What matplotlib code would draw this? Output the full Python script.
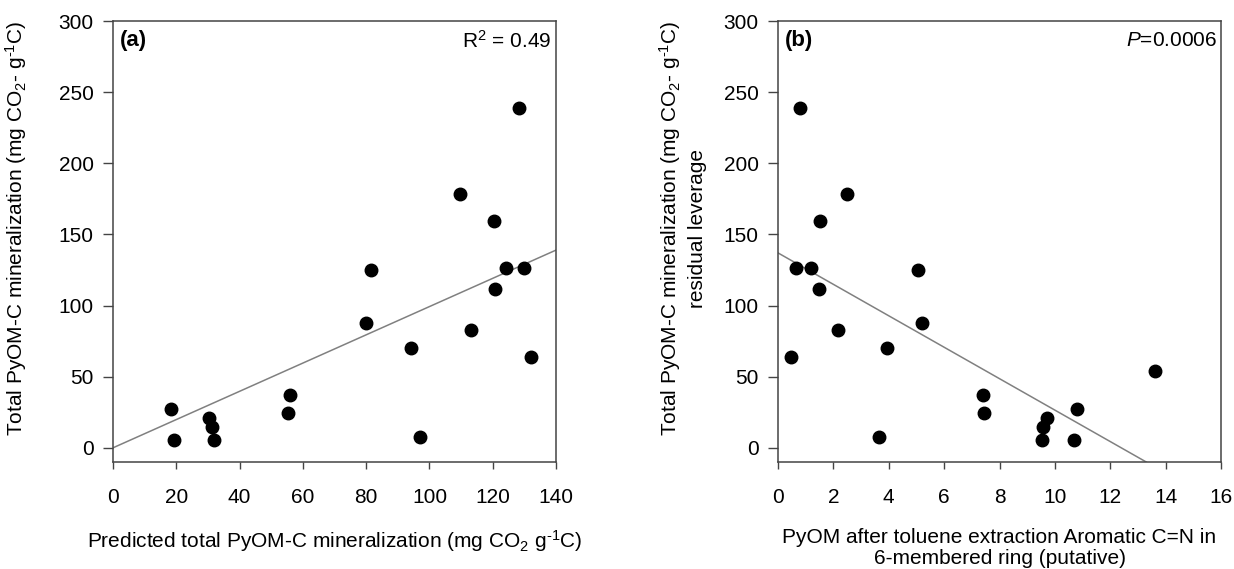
import matplotlib
matplotlib.use('Agg')
from matplotlib import pyplot as plt

plt.rcParams['font.family'] = ['Liberation Sans', 'DejaVu Sans']
plt.rcParams['mathtext.fontset'] = 'custom'
plt.rcParams['mathtext.rm'] = 'Liberation Sans'
plt.rcParams['mathtext.it'] = 'Liberation Sans:italic'

# panel (a): predicted vs measured total PyOM-C mineralization
pred_a = [18.3, 19.3, 30.2, 31.2, 31.9, 55.4, 55.9, 80.0, 81.5, 94.1,
          97.0, 109.7, 113.0, 120.4, 120.7, 124.1, 128.2, 130.0, 132.0]
total_a = [27.2, 5.6, 20.8, 14.5, 5.8, 24.6, 36.8, 87.8, 125.1, 70.3,
           7.4, 178.7, 82.7, 159.6, 111.7, 126.1, 238.8, 126.1, 63.7]
fit_a_x = [0, 140]
fit_a_y = [0, 139]

# panel (b): residual leverage vs aromatic C=N
cn_b = [0.80, 0.65, 1.20, 1.51, 1.49, 0.48, 2.48, 2.18, 3.65, 3.92,
        5.05, 5.19, 7.40, 7.43, 9.54, 9.58, 9.70, 10.69, 10.80, 13.62]
resid_b = [238.8, 126.1, 126.1, 159.6, 111.7, 63.7, 178.7, 82.7, 7.4, 70.3,
           125.1, 87.8, 36.8, 24.6, 5.6, 14.5, 20.8, 5.6, 27.2, 54.1]
fit_b_x = [0, 13.3]
fit_b_y = [137, -10]

FS = 15
spine_c = '#444444'
ylab = 'Total PyOM-C mineralization (mg CO$_2$- g$^{\\text{-}1}$C)'

fig = plt.figure(figsize=(12.34, 5.69), dpi=100)
ax1 = fig.add_axes([0.0916, 0.188, 0.359, 0.775])
ax2 = fig.add_axes([0.6305, 0.188, 0.359, 0.775])


def style(ax, xmax, step):
    ax.set_xlim(0, xmax)
    ax.set_ylim(-10, 300)
    ax.set_xticks(range(0, xmax + 1, step))
    ax.set_yticks(range(0, 301, 50))
    for s in ax.spines.values():
        s.set_color(spine_c)
        s.set_linewidth(1.1)
    ax.tick_params(axis='x', direction='out', length=5, width=1, color=spine_c,
                   labelsize=FS, pad=14, top=False)
    ax.tick_params(axis='y', direction='out', length=7, width=1, color=spine_c,
                   labelsize=FS, pad=7, right=False)


# (a)
ax1.plot(fit_a_x, fit_a_y, color='#808080', lw=1.1, zorder=2)
ax1.plot(pred_a, total_a, 'o', color='black', ms=9, zorder=3)
style(ax1, 140, 20)
ax1.set_xlabel('Predicted total PyOM-C mineralization (mg CO$_2$ g$^{\\text{-}1}$C)', fontsize=FS)
ax1.xaxis.set_label_coords(0.5, -0.15)
ax1.set_ylabel(ylab, fontsize=FS)
ax1.yaxis.set_label_coords(-0.19, 0.53)
ax1.text(0.015, 0.955, '(a)', transform=ax1.transAxes, fontsize=16,
         fontweight='bold', ha='left', va='center')
ax1.text(0.99, 0.955, 'R$^2$ = 0.49', transform=ax1.transAxes, fontsize=FS,
         ha='right', va='center')

# (b)
ax2.plot(fit_b_x, fit_b_y, color='#808080', lw=1.1, zorder=2)
ax2.plot(cn_b, resid_b, 'o', color='black', ms=9, zorder=3)
style(ax2, 16, 2)
ax2.set_xlabel('PyOM after toluene extraction Aromatic C=N in\n6-membered ring (putative)',
               fontsize=FS, linespacing=1.1)
ax2.xaxis.set_label_coords(0.5, -0.15)
ax2.set_ylabel(ylab + '\nresidual leverage', fontsize=FS, linespacing=1.35)
ax2.yaxis.set_label_coords(-0.16, 0.53)
ax2.text(0.015, 0.955, '(b)', transform=ax2.transAxes, fontsize=16,
         fontweight='bold', ha='left', va='center')
ax2.text(0.99, 0.955, '$P$=0.0006', transform=ax2.transAxes, fontsize=FS,
         ha='right', va='center')

fig.savefig('out.png', dpi=100)
